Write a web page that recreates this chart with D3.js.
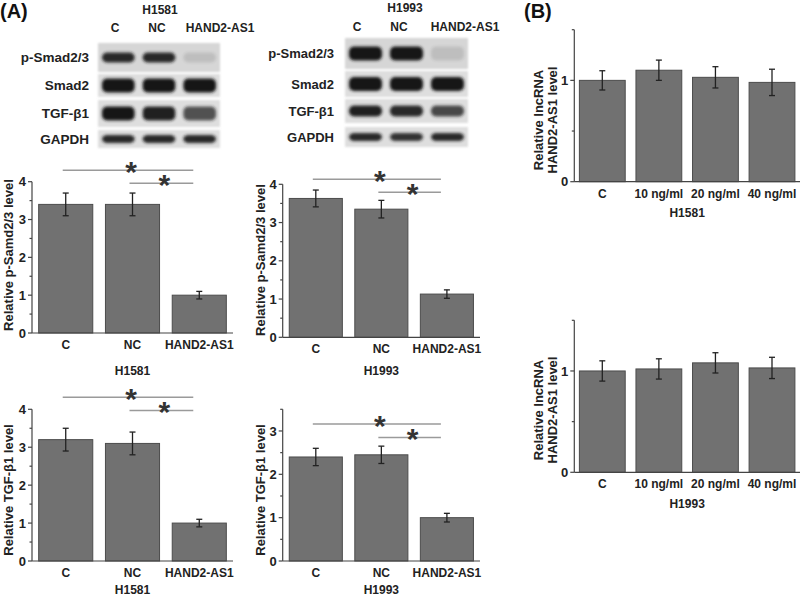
<!DOCTYPE html>
<html><head><meta charset="utf-8">
<script src="https://cdnjs.cloudflare.com/ajax/libs/d3/7.8.5/d3.min.js"></script>
<style>body{margin:0;background:#fff}svg{display:block;font-family:"Liberation Sans",Arial,sans-serif;font-weight:bold}</style>
</head><body><svg id="fig" width="800" height="598"></svg>
<script>
// ---------- data ----------
const groupsA = ["C", "NC", "HAND2-AS1"];
const pSmadH1581 = [3.4, 3.4, 1.0];
const pSmadH1581Err = [0.3, 0.3, 0.1];
const pSmadH1993 = [3.63, 3.35, 1.13];
const pSmadH1993Err = [0.22, 0.23, 0.11];
const tgfH1581 = [3.2, 3.1, 1.0];
const tgfH1581Err = [0.3, 0.3, 0.1];
const tgfH1993 = [2.4, 2.45, 1.0];
const tgfH1993Err = [0.2, 0.2, 0.1];

const groupsB = ["C", "10 ng/ml", "20 ng/ml", "40 ng/ml"];
const lncH1581 = [1.0, 1.1, 1.03, 0.98];
const lncH1581Err = [0.095, 0.1, 0.105, 0.13];
const lncH1993 = [1.0, 1.02, 1.08, 1.03];
const lncH1993Err = [0.1, 0.1, 0.1, 0.105];

const ticksA4 = [0, 1, 2, 3, 4];
const ticksA35 = [0, 1, 2, 3];
const ticksB = [0, 1];

const blotRows = ["p-Smad2/3", "Smad2", "TGF-\u03b21", "GAPDH"];
const blotH1581 = [[0.9, 0.9, 0.12], [1, 1, 1], [1, 0.95, 0.7], [0.9, 0.9, 0.9]];
const blotH1993 = [[1, 1, 0.12], [1, 1, 1], [0.95, 0.9, 0.75], [0.9, 0.85, 0.9]];
// significance annotations: [fromIndex, toIndex, level]
const sigPSmadH1581 = [[0, 2, 4.3], [1, 2, 3.96]];
const sigPSmadH1993 = [[0, 2, 4.13], [1, 2, 3.79]];
const sigTgfH1581 = [[0, 2, 4.32], [1, 2, 3.97]];
const sigTgfH1993 = [[0, 2, 3.16], [1, 2, 2.85]];

// ---------- drawing ----------
const svg = d3.select("#fig");
const defs = svg.append("defs");
defs.append("filter").attr("id", "blur").attr("x", "-20%").attr("y", "-50%").attr("width", "140%").attr("height", "200%")
  .append("feGaussianBlur").attr("stdDeviation", 1.6);
defs.append("filter").attr("id", "blur2")
  .append("feGaussianBlur").attr("stdDeviation", 0.8);

const BAR = "#717171", BARSTROKE = "#4c4c4c", AX = "#444";

function barChart(c) {
  const g = svg.append("g");
  const x = d3.scaleBand().domain(c.cats).range([c.x0, c.x1]).paddingInner(c.pi).paddingOuter(c.po);
  const y = d3.scaleLinear().domain([0, c.max]).range([c.yb, c.yt]);
  // bars
  g.selectAll("rect.bar").data(c.vals).join("rect")
    .attr("x", (d, i) => x(c.cats[i])).attr("width", x.bandwidth())
    .attr("y", d => y(d)).attr("height", d => y(0) - y(d))
    .attr("fill", BAR).attr("stroke", BARSTROKE).attr("stroke-width", 1);
  // error bars
  const eb = g.selectAll("g.err").data(c.vals).join("g").attr("stroke", "#222").attr("stroke-width", 1.3);
  eb.append("line").attr("x1", (d, i) => x(c.cats[i]) + x.bandwidth() / 2).attr("x2", (d, i) => x(c.cats[i]) + x.bandwidth() / 2)
    .attr("y1", (d, i) => y(d + c.errs[i])).attr("y2", (d, i) => y(d - c.errs[i]));
  [1, -1].forEach(s => {
    eb.append("line").attr("x1", (d, i) => x(c.cats[i]) + x.bandwidth() / 2 - 3).attr("x2", (d, i) => x(c.cats[i]) + x.bandwidth() / 2 + 3)
      .attr("y1", (d, i) => y(d + s * c.errs[i])).attr("y2", (d, i) => y(d + s * c.errs[i]));
  });
  // axes
  g.append("line").attr("x1", c.x0).attr("x2", c.x0).attr("y1", y(0)).attr("y2", y(c.max)).attr("stroke", AX).attr("stroke-width", 1.2);
  g.append("line").attr("x1", c.x0).attr("x2", c.x1).attr("y1", y(0)).attr("y2", y(0)).attr("stroke", AX).attr("stroke-width", 1.2);
  const minor = d3.range(0, c.max + 0.001, 0.5);
  g.selectAll("line.mt").data(minor).join("line")
    .attr("x1", d => c.x0 - (c.ticks.includes(d) ? 4 : 2.5)).attr("x2", c.x0)
    .attr("y1", d => y(d)).attr("y2", d => y(d)).attr("stroke", AX).attr("stroke-width", 1.2);
  g.selectAll("text.tl").data(c.ticks).join("text")
    .attr("x", c.x0 - 6).attr("y", d => y(d)).attr("dy", "0.36em").attr("text-anchor", "end")
    .attr("font-size", 13).attr("fill", "#222").text(d => d);
  // x labels
  g.selectAll("text.xl").data(c.cats).join("text")
    .attr("x", d => x(d) + x.bandwidth() / 2).attr("y", y(0) + 16).attr("text-anchor", "middle")
    .attr("font-size", 12).attr("fill", "#222").text(d => d);
  g.append("text").attr("x", (c.x0 + c.x1) / 2 + c.tdx).attr("y", y(0) + c.tdy).attr("text-anchor", "middle")
    .attr("font-size", 12).attr("fill", "#222").text(c.xTitle);
  // y title
  c.yTitle.forEach((t, k) => {
    g.append("text").attr("transform", `translate(${c.ytx + k * 14},${c.yty}) rotate(-90)`)
      .attr("text-anchor", "middle").attr("font-size", 13).attr("fill", "#222").text(t);
  });
  // significance
  if (c.sig) {
    c.sig.forEach(([a, b, lv]) => {
      const xa = x(c.cats[a]) + x.bandwidth() / 2 - 3, xb = x(c.cats[b]) + x.bandwidth() / 2 - 6;
      g.append("line").attr("x1", xa).attr("x2", xb).attr("y1", y(lv)).attr("y2", y(lv))
        .attr("stroke", "#9a9a9a").attr("stroke-width", 1.5);
      g.append("text").attr("x", (xa + xb) / 2 + 3).attr("y", y(lv) + 12).attr("text-anchor", "middle")
        .attr("font-size", 30).attr("fill", "#333").text("*");
    });
  }
}

const layA = { pi: 0.19, po: 0.1 };
barChart({ ...layA, cats: groupsA, vals: pSmadH1581, errs: pSmadH1581Err, x0: 32, x1: 233, yb: 333, yt: 181.7, max: 4, ticks: ticksA4,
  xTitle: "H1581", tdx: 0, tdy: 42, yTitle: ["Relative p-Samd2/3 level"], ytx: 13, yty: 255, sig: sigPSmadH1581 });
barChart({ ...layA, cats: groupsA, vals: pSmadH1993, errs: pSmadH1993Err, x0: 282.7, x1: 480, yb: 337.3, yt: 184.3, max: 4, ticks: ticksA4,
  xTitle: "H1993", tdx: 0, tdy: 38, yTitle: ["Relative p-Samd2/3 level"], ytx: 265, yty: 260, sig: sigPSmadH1993 });
barChart({ ...layA, cats: groupsA, vals: tgfH1581, errs: tgfH1581Err, x0: 32, x1: 233, yb: 561, yt: 409.3, max: 4, ticks: ticksA4,
  xTitle: "H1581", tdx: 0, tdy: 33, yTitle: ["Relative TGF-\u03b21 level"], ytx: 13, yty: 490, sig: sigTgfH1581 });
barChart({ ...layA, cats: groupsA, vals: tgfH1993, errs: tgfH1993Err, x0: 282.7, x1: 480, yb: 561, yt: 409.3, max: 3.5, ticks: ticksA35,
  xTitle: "H1993", tdx: 0, tdy: 33, yTitle: ["Relative TGF-\u03b21 level"], ytx: 265, yty: 490, sig: sigTgfH1993 });

const layB = { pi: 0.19, po: 0.09 };
barChart({ ...layB, cats: groupsB, vals: lncH1581, errs: lncH1581Err, x0: 574.3, x1: 800, yb: 181.7, yt: 29.7, max: 1.5, ticks: ticksB,
  xTitle: "H1581", tdx: 0, tdy: 35, yTitle: ["Relative lncRNA", "HAND2-AS1 level"], ytx: 543, yty: 120 });
barChart({ ...layB, cats: groupsB, vals: lncH1993, errs: lncH1993Err, x0: 574.3, x1: 800, yb: 472.3, yt: 320.3, max: 1.5, ticks: ticksB,
  xTitle: "H1993", tdx: 0, tdy: 36, yTitle: ["Relative lncRNA", "HAND2-AS1 level"], ytx: 543, yty: 410 });

// ---------- western blots ----------
function blot(b) {
  const g = svg.append("g");
  const lanes = d3.scaleBand().domain(groupsA).range([b.x0, b.x1]);
  g.append("text").attr("x", b.titleX).attr("y", b.titleY).attr("text-anchor", "middle").attr("font-size", 12).attr("fill", "#222").text(b.title);
  g.selectAll("text.cl").data(groupsA).join("text").attr("x", (d, i) => b.colX[i]).attr("y", b.colY)
    .attr("text-anchor", "middle").attr("font-size", 12).attr("fill", "#222").text(d => d);
  b.rows.forEach((r, k) => {
    g.append("rect").attr("x", b.x0).attr("y", r[0]).attr("width", b.x1 - b.x0).attr("height", r[1] - r[0])
      .attr("fill", k === 0 ? "#d6d6d6" : "#dedede").attr("filter", "url(#blur2)");
    g.append("text").attr("x", b.labX).attr("y", (r[0] + r[1]) / 2).attr("dy", "0.36em").attr("text-anchor", "end")
      .attr("font-size", b.labFs).attr("fill", "#222").text(blotRows[k]);
    const bh = b.bandH[k];
    g.selectAll(null).data(b.data[k]).join("rect")
      .attr("x", (d, i) => lanes(groupsA[i]) + 4).attr("width", lanes.bandwidth() - 8)
      .attr("y", (r[0] + r[1]) / 2 - bh / 2).attr("height", bh).attr("rx", 5)
      .attr("fill", "#161616").attr("opacity", d => d).attr("filter", "url(#blur)");
  });
}
blot({ x0: 98, x1: 220, rows: [[43, 72], [74, 97], [100, 127], [130, 148]], labX: 89, labFs: 13.5, data: blotH1581,
  bandH: [10, 14, 14, 8], title: "H1581", titleX: 160, titleY: 14, colX: [115, 157, 220], colY: 32 });
blot({ x0: 345, x1: 468, rows: [[38, 69], [71, 97], [99, 123], [127, 147]], labX: 334, labFs: 13, data: blotH1993,
  bandH: [14, 14, 11, 8], title: "H1993", titleX: 405, titleY: 12, colX: [357, 399, 465], colY: 31 });

svg.append("text").attr("x", 0).attr("y", 18).attr("font-size", 20).attr("fill", "#111").text("(A)");
svg.append("text").attr("x", 524).attr("y", 18).attr("font-size", 20).attr("fill", "#111").text("(B)");
</script></body></html>
